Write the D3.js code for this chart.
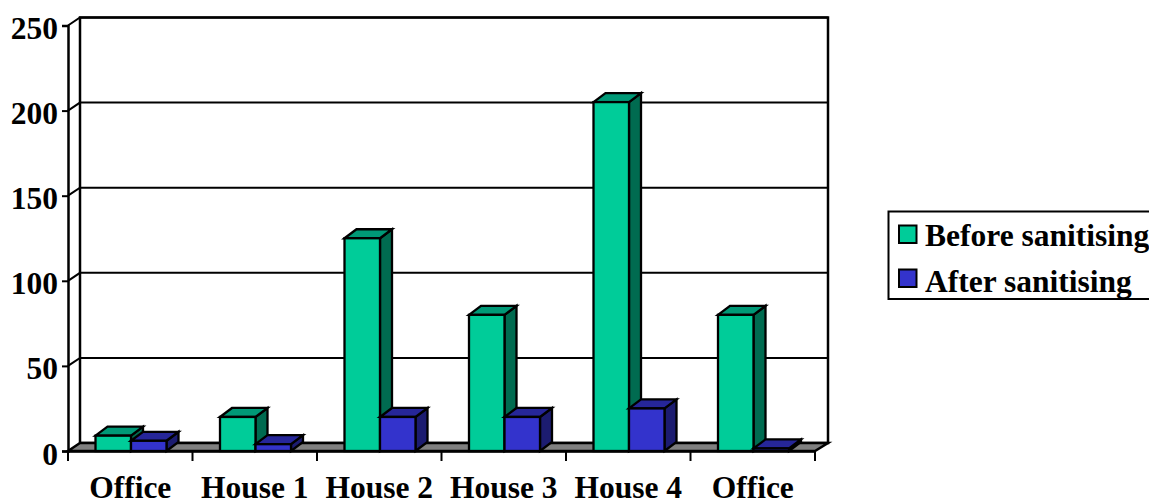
<!DOCTYPE html>
<html>
<head>
<meta charset="utf-8">
<script src="https://cdn.jsdelivr.net/npm/d3@7"></script>
<style>
  html, body { margin: 0; padding: 0; background: #fff; overflow: hidden; }
  svg { display: block; }
  text { font-family: "Liberation Serif", serif; font-weight: bold; font-size: 31.5px; fill: #000; }
</style>
</head>
<body>
<div id="view"></div>
<script>
  // values
  const categories = ["Office", "House 1", "House 2", "House 3", "House 4", "Office "];
  const seriesNames = ["Before sanitising", "After sanitising"];
  const beforeValues = [9, 20, 125, 80, 205, 80];
  const afterValues = [6, 4, 20, 20, 25, 1.5];
  const yTicks = [0, 50, 100, 150, 200, 250];

  const COLORS = {
    "Before sanitising": { front: "#00cc99", top: "#009977", side: "#006b50" },
    "After sanitising":  { front: "#3333cc", top: "#262699", side: "#1c1c70" }
  };

  const W = 1149, H = 499;
  const DX = 12, DY = 8;           // depth of the walls
  const BAR_DX = 12, BAR_DY = 9;   // depth of the bars
  const L = 68, R = 815, B = 451, T = 25.5;

  const svg = d3.select("#view").append("svg").attr("width", W).attr("height", H);

  const x = d3.scaleBand().domain(d3.range(categories.length)).range([L, R]);
  const x1 = d3.scaleBand().domain(seriesNames).range([27.5, 98.5]);
  const y = d3.scaleLinear().domain([0, 250]).range([B, T]);

  const stroke = (sel, w) => sel.attr("stroke", "#000").attr("stroke-width", w).attr("stroke-linejoin", "miter");

  // walls
  stroke(svg.append("rect")
    .attr("x", L + DX).attr("y", T - DY)
    .attr("width", R - L + 1).attr("height", B - T)
    .attr("fill", "#fff"), 2.5);

  // floor
  stroke(svg.append("path")
    .attr("d", `M${L},${B}L${L + DX},${B - DY}L${R + DX + 1},${B - DY}L${R},${B}Z`)
    .attr("fill", "#808080"), 2.5);

  // grid on back wall + side wall
  stroke(svg.append("g").selectAll("path")
    .data(yTicks.slice(1))
    .join("path")
    .attr("fill", "none")
    .attr("d", d => `M${L},${y(d)}L${L + DX},${y(d) - DY}L${R + DX + 1},${y(d) - DY}`), 2);

  // axes
  const axisY = svg.append("g")
    .attr("transform", `translate(${L},0)`)
    .call(d3.axisLeft(y).tickValues(yTicks).tickSize(6).tickPadding(4));
  const axisX = svg.append("g")
    .attr("transform", `translate(0,${B})`)
    .call(d3.axisBottom(x).tickFormat(i => categories[i].trim()).tickSize(0).tickPadding(25));

  axisY.selectAll("line").attr("stroke", "#000").attr("stroke-width", 2);
  axisY.select(".domain").attr("stroke", "#000").attr("stroke-width", 2.5);
  axisX.select(".domain").attr("stroke", "#000").attr("stroke-width", 2.5);
  svg.selectAll(".tick text")
    .style("font-family", '"Liberation Serif", serif')
    .style("font-weight", "bold")
    .style("font-size", "31.5px")
    .attr("fill", "#000");
  axisY.selectAll("text").attr("y", 3);

  // bottom tick marks sit between the categories
  stroke(svg.append("g").selectAll("line")
    .data(d3.range(categories.length + 1))
    .join("line")
    .attr("x1", i => L + i * x.bandwidth())
    .attr("x2", i => L + i * x.bandwidth())
    .attr("y1", B)
    .attr("y2", B + 10), 2);

  // bars
  const series = [beforeValues, afterValues];
  categories.forEach((c, i) => {
    seriesNames.forEach((name, s) => {
      const v = series[s][i];
      const x0 = x(i) + x1(name);
      const w = x1.bandwidth();
      const yTop = y(v);
      const col = COLORS[name];
      const g = svg.append("g");
      stroke(g.append("path")
        .attr("d", `M${x0 + w},${B}L${x0 + w + BAR_DX},${B - BAR_DY}L${x0 + w + BAR_DX},${yTop - BAR_DY}L${x0 + w},${yTop}Z`)
        .attr("fill", col.side), 2.3);
      stroke(g.append("path")
        .attr("d", `M${x0},${yTop}L${x0 + BAR_DX},${yTop - BAR_DY}L${x0 + w + BAR_DX},${yTop - BAR_DY}L${x0 + w},${yTop}Z`)
        .attr("fill", col.top), 2.3);
      stroke(g.append("rect")
        .attr("x", x0).attr("y", yTop)
        .attr("width", w).attr("height", B - yTop)
        .attr("fill", col.front), 2.3);
    });
  });

  // legend
  stroke(svg.append("rect")
    .attr("x", 888.5).attr("y", 211.5)
    .attr("width", 280).attr("height", 87.5)
    .attr("fill", "#fff"), 2);
  seriesNames.forEach((name, s) => {
    const ly = 225.5 + s * 44;
    stroke(svg.append("rect")
      .attr("x", 899).attr("y", ly)
      .attr("width", 17.5).attr("height", 17.5)
      .attr("fill", COLORS[name].front), 2);
    svg.append("text")
      .attr("x", 925).attr("y", 246 + s * 46)
      .text(name);
  });
</script>
</body>
</html>
